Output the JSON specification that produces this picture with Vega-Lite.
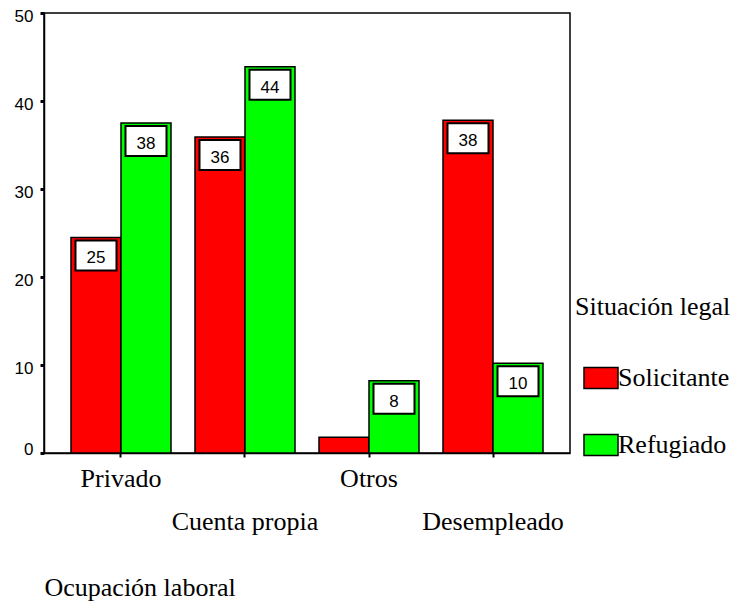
{
  "$schema": "https://vega.github.io/schema/vega-lite/v6.json",
  "width": 526,
  "height": 440,
  "autosize": {"type": "none"},
  "padding": {"left": 44, "top": 13, "right": 161, "bottom": 150},
  "background": "white",
  "data": {
    "values": [
      {"ocupacion": "Privado", "situacion": "Solicitante", "porcentaje": 24.5, "etiqueta": "25"},
      {"ocupacion": "Privado", "situacion": "Refugiado", "porcentaje": 37.5, "etiqueta": "38"},
      {"ocupacion": "Cuenta propia", "situacion": "Solicitante", "porcentaje": 35.9, "etiqueta": "36"},
      {"ocupacion": "Cuenta propia", "situacion": "Refugiado", "porcentaje": 43.9, "etiqueta": "44"},
      {"ocupacion": "Otros", "situacion": "Solicitante", "porcentaje": 1.8, "etiqueta": null},
      {"ocupacion": "Otros", "situacion": "Refugiado", "porcentaje": 8.2, "etiqueta": "8"},
      {"ocupacion": "Desempleado", "situacion": "Solicitante", "porcentaje": 37.8, "etiqueta": "38"},
      {"ocupacion": "Desempleado", "situacion": "Refugiado", "porcentaje": 10.2, "etiqueta": "10"}
    ]
  },
  "encoding": {
    "x": {
      "field": "ocupacion",
      "type": "nominal",
      "sort": ["Privado", "Cuenta propia", "Otros", "Desempleado"],
      "scale": {"paddingInner": 0.1935, "paddingOuter": 0.2177},
      "axis": {
        "title": "Ocupación laboral",
        "labelAngle": 0,
        "labelFont": "Liberation Serif",
        "labelFontSize": 26,
        "labelColor": "black",
        "labelOverlap": false,
        "labelPadding": {"condition": {"test": "datum.value === 'Cuenta propia' || datum.value === 'Desempleado'", "value": 51}, "value": 8},
        "tickSize": 4,
        "tickWidth": 2,
        "tickColor": "black",
        "domainColor": "black",
        "domainWidth": 1.5,
        "titleFont": "Liberation Serif",
        "titleFontSize": 26,
        "titleFontWeight": "normal",
        "titleColor": "black",
        "titleAlign": "left",
        "titleAnchor": "start",
        "titleX": 0,
        "titleY": 142,
        "titleBaseline": "alphabetic"
      }
    },
    "xOffset": {
      "field": "situacion",
      "type": "nominal",
      "sort": ["Solicitante", "Refugiado"],
      "scale": {"paddingInner": 0, "paddingOuter": 0}
    },
    "y": {
      "field": "porcentaje",
      "type": "quantitative",
      "scale": {"domain": [0, 50], "nice": false},
      "axis": {
        "title": null,
        "values": [0, 10, 20, 30, 40, 50],
        "grid": false,
        "labelFont": "Liberation Sans",
        "labelFontSize": 17,
        "labelColor": "black",
        "labelPadding": 7,
        "labelOffset": {"condition": {"test": "datum.value === 0", "value": -4}, "value": 3},
        "tickSize": 4,
        "tickWidth": 3,
        "tickColor": "black",
        "domainColor": "black",
        "domainWidth": 1.5
      }
    }
  },
  "layer": [
    {
      "mark": {"type": "bar", "stroke": "black", "strokeWidth": 1.5},
      "encoding": {
        "color": {
          "field": "situacion",
          "type": "nominal",
          "sort": ["Solicitante", "Refugiado"],
          "scale": {"domain": ["Solicitante", "Refugiado"], "range": ["#ff0000", "#00ff00"]},
          "legend": {
            "orient": "none",
            "legendX": 531,
            "legendY": 281,
            "title": "Situación legal",
            "titleFont": "Liberation Serif",
            "titleFontSize": 26,
            "titleFontWeight": "normal",
            "titleColor": "black",
            "titlePadding": 40,
            "labelFont": "Liberation Serif",
            "labelFontSize": 26,
            "labelColor": "black",
            "labelLimit": 200,
            "symbolType": "M-1,-0.618H1V0.618H-1Z",
            "symbolSize": 1156,
            "symbolStrokeColor": "black",
            "symbolStrokeWidth": 1.5,
            "symbolOpacity": 1,
            "symbolOffset": 8,
            "labelOffset": -1,
            "rowPadding": 35,
            "padding": 0
          }
        }
      }
    },
    {
      "transform": [{"filter": "datum.etiqueta != null"}],
      "mark": {
        "type": "point",
        "shape": "M-1,-0.732H1V0.732H-1Z",
        "size": 1681,
        "filled": true,
        "fill": "white",
        "stroke": "black",
        "strokeWidth": 2,
        "opacity": 1,
        "yOffset": 18
      }
    },
    {
      "transform": [{"filter": "datum.etiqueta != null"}],
      "mark": {
        "type": "text",
        "font": "Liberation Sans",
        "fontSize": 17,
        "color": "black",
        "baseline": "middle",
        "align": "center",
        "yOffset": 21
      },
      "encoding": {"text": {"field": "etiqueta"}}
    }
  ],
  "config": {
    "view": {"stroke": "black", "strokeWidth": 1.5}
  }
}
